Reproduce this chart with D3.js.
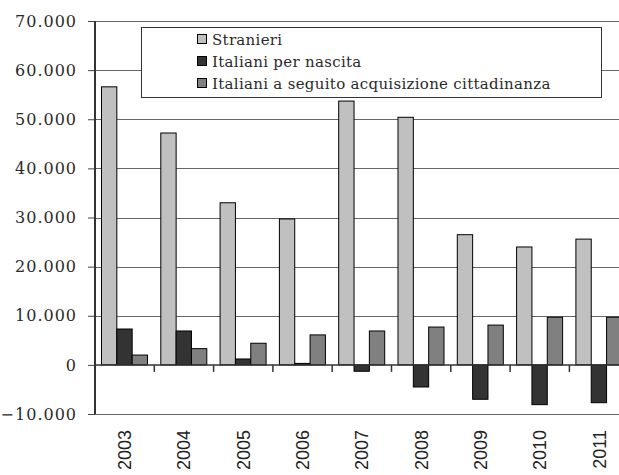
<!DOCTYPE html>
<html><head><meta charset="utf-8">
<script src="https://cdn.jsdelivr.net/npm/d3@7"></script>
<style>html,body{margin:0;padding:0;background:#fff;overflow:hidden}
.serif{font-family:"DejaVu Serif",serif}
.sans{font-family:"Liberation Sans",Arial,sans-serif}</style>
</head><body>
<script>
const years = ["2003","2004","2005","2006","2007","2008","2009","2010","2011"];
const seriesNames = ["Stranieri","Italiani per nascita","Italiani a seguito acquisizione cittadinanza"];
const stranieri = [56600, 47200, 33000, 29700, 53700, 50400, 26500, 24000, 25600];
const italianiNascita = [7300, 6900, 1200, 300, -1300, -4500, -7000, -8100, -7700];
const italianiAcquisizione = [2000, 3300, 4400, 6100, 6900, 7700, 8100, 9700, 9700];
const yTicks = [-10000, 0, 10000, 20000, 30000, 40000, 50000, 60000, 70000];
const colors = ["#c0c0c0", "#333333", "#808080"];

const W = 619, H = 475;
const svg = d3.select("body").append("svg").attr("width", W).attr("height", H);
const left = 95, catW = 59.3;
const x0 = d3.scaleBand().domain(years).range([left, left + catW * years.length]).paddingInner(0).paddingOuter(0);
const x1 = d3.scaleBand().domain(seriesNames).range([6.5, 52.5]);
const y = d3.scaleLinear().domain([-10000, 70000]).range([414, 21]);
const fmt = v => d3.format(",")(v).replace(/,/g, ".");

// gridlines
svg.append("g").selectAll("line").data(yTicks.filter(t => t !== 0)).join("line")
  .attr("x1", left).attr("x2", W).attr("y1", d => Math.round(y(d)) + 0.5).attr("y2", d => Math.round(y(d)) + 0.5)
  .attr("stroke", "#666").attr("stroke-width", 1);

// y axis
const yAxis = d3.axisLeft(y).tickValues(yTicks).tickFormat(fmt).tickSize(7).tickPadding(11);
const gy = svg.append("g").attr("transform", `translate(${left},0)`).call(yAxis);
gy.attr("font-family", null).attr("font-size", null);
gy.select(".domain").remove();
gy.selectAll(".tick line").attr("stroke", "#444").attr("stroke-width", 1);
gy.selectAll("text").attr("class", "serif").style("font-size", "16px").attr("fill", "#2a2a2a").style("letter-spacing", "1px");

// bars
const data = years.map((yr, i) => ({ yr, vals: [stranieri[i], italianiNascita[i], italianiAcquisizione[i]] }));
const groups = svg.append("g").selectAll("g").data(data).join("g").attr("transform", d => `translate(${x0(d.yr)},0)`);
groups.selectAll("rect").data(d => d.vals.map((v, k) => ({ v, k }))).join("rect")
  .attr("x", d => x1(seriesNames[d.k]))
  .attr("width", x1.bandwidth())
  .attr("y", d => y(Math.max(0, d.v)))
  .attr("height", d => Math.abs(y(d.v) - y(0)))
  .attr("fill", d => colors[d.k]).attr("stroke", "#000").attr("stroke-width", 1);

// x axis at zero
const xAxis = d3.axisBottom(x0).tickSize(0).tickFormat("");
const gx = svg.append("g").attr("transform", `translate(0,${y(0)})`).call(xAxis);
gx.select(".domain").remove();
svg.append("line").attr("x1", left).attr("x2", W).attr("y1", y(0)).attr("y2", y(0)).attr("stroke", "#333").attr("stroke-width", 1.5);
// category boundary ticks
svg.append("g").selectAll("line").data(years.slice(1)).join("line")
  .attr("x1", d => x0(d)).attr("x2", d => x0(d)).attr("y1", y(0)).attr("y2", y(0) + 7)
  .attr("stroke", "#333").attr("stroke-width", 1.5);
// year labels
svg.append("g").selectAll("text").data(years).join("text")
  .attr("class", "sans")
  .attr("transform", d => `translate(${x0(d) + catW / 2},430) rotate(-90)`)
  .attr("text-anchor", "end").attr("dy", "0.36em")
  .style("font-size", "18px").attr("fill", "#222")
  .text(d => d);

// y axis line
svg.append("line").attr("x1", left).attr("x2", left).attr("y1", y(70000)).attr("y2", y(-10000)).attr("stroke", "#333").attr("stroke-width", 2);

// legend
const lg = svg.append("g");
lg.append("rect").attr("x", 141.5).attr("y", 27.5).attr("width", 460).attr("height", 70).attr("fill", "#fff").attr("stroke", "#333");
const items = lg.selectAll("g").data(seriesNames).join("g").attr("transform", (d, i) => `translate(197,${34 + i * 22})`);
items.append("rect").attr("x", 0.5).attr("y", 0.5).attr("width", 9).attr("height", 9).attr("fill", (d, i) => colors[i]).attr("stroke", "#000");
items.append("text").attr("class", "serif").attr("x", 15).attr("y", 10.5).style("font-size", "15px").style("letter-spacing", "0.3px").attr("fill", "#2a2a2a").text(d => d);
</script>
</body></html>
